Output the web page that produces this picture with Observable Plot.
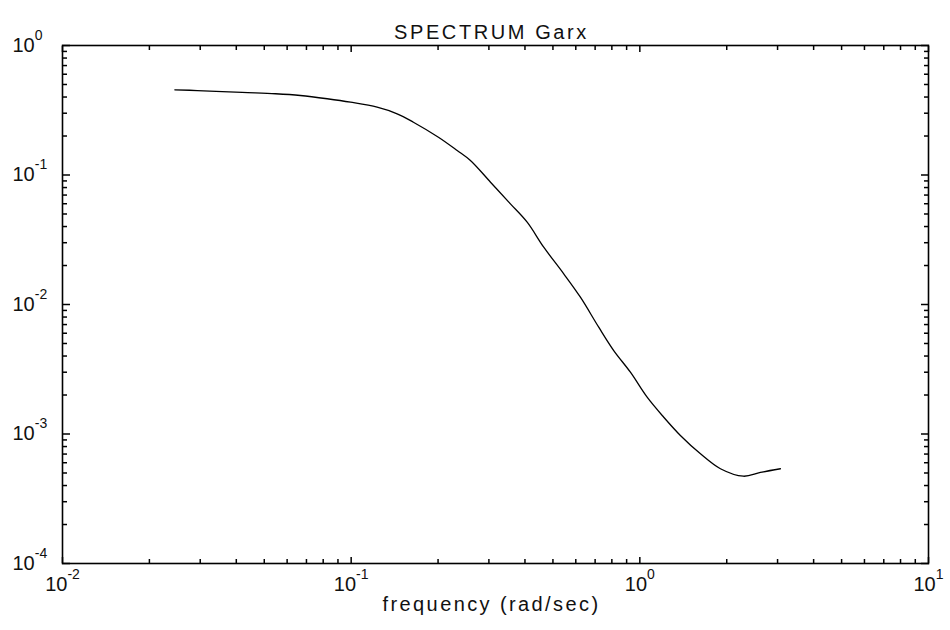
<!DOCTYPE html>
<html>
<head>
<meta charset="utf-8">
<script src="https://cdn.jsdelivr.net/npm/d3@7"></script>
<script src="https://cdn.jsdelivr.net/npm/@observablehq/plot@0.6"></script>
<style>
  html, body { margin: 0; padding: 0; background: #fff; }
  #chart svg { display: block; }
</style>
</head>
<body>
<div id="chart"></div>
<script>
// ---- data ----
const titleText = "SPECTRUM Garx";
const xLabelText = "frequency (rad/sec)";
const freq = [0.0245, 0.0293, 0.0419, 0.0547, 0.0667, 0.0826, 0.0995, 0.123, 0.1443, 0.1643,
              0.2006, 0.2329, 0.2589, 0.3039, 0.3562, 0.4071, 0.4646, 0.545, 0.6225, 0.7205,
              0.812, 0.9277, 1.060, 1.210, 1.382, 1.622, 1.902, 2.285, 2.616, 3.069];
const spectrum = [0.455, 0.449, 0.434, 0.424, 0.411, 0.388, 0.365, 0.334, 0.297, 0.2557,
                  0.1958, 0.1546, 0.1294, 0.0880, 0.0599, 0.0432, 0.0277, 0.01726, 0.01139, 0.00668,
                  0.00441, 0.0030, 0.001924, 0.001348, 0.000974, 0.000703, 0.000539, 0.000472, 0.000505, 0.000539];
const xDecades = [-2, -1, 0, 1];
const yDecades = [-4, -3, -2, -1, 0];
const minorMultipliers = [2, 3, 4, 5, 6, 7, 8, 9];

// ---- derived tables ----
const rows = freq.map((f, i) => ({f, s: spectrum[i]}));
const xMajor = xDecades.map(e => Math.pow(10, e));
const yMajor = yDecades.map(e => Math.pow(10, e));
const minorOf = decs => decs.slice(0, -1).flatMap(e => minorMultipliers.map(k => k * Math.pow(10, e)));
const xMinor = minorOf(xDecades);
const yMinor = minorOf(yDecades);

// ---- layout ----
const W = 950, H = 630;
const font = "Liberation Sans, Arial, Helvetica, sans-serif";
const tickStyle = {stroke: "black", strokeWidth: 1.5, tickFormat: () => "", label: null};

const chart = Plot.plot({
  width: W, height: H,
  marginLeft: 62, marginRight: 22, marginTop: 45, marginBottom: 67,
  style: {fontFamily: font, background: "white", color: "black"},
  x: {type: "log", domain: [xMajor[0], xMajor[xMajor.length - 1]]},
  y: {type: "log", domain: [yMajor[0], yMajor[yMajor.length - 1]]},
  marks: [
    // inward ticks on all four sides
    Plot.axisX({anchor: "bottom", ticks: xMinor, tickSize: -4, ...tickStyle}),
    Plot.axisX({anchor: "top", ticks: xMinor, tickSize: -4, ...tickStyle}),
    Plot.axisX({anchor: "bottom", ticks: xMajor, tickSize: -6, ...tickStyle}),
    Plot.axisX({anchor: "top", ticks: xMajor, tickSize: -6, ...tickStyle}),
    Plot.axisY({anchor: "left", ticks: yMinor, tickSize: -5, ...tickStyle}),
    Plot.axisY({anchor: "right", ticks: yMinor, tickSize: -5, ...tickStyle}),
    Plot.axisY({anchor: "left", ticks: yMajor, tickSize: -8, ...tickStyle}),
    Plot.axisY({anchor: "right", ticks: yMajor, tickSize: -8, ...tickStyle}),
    Plot.frame({stroke: "black", strokeWidth: 1.6}),
    // the curve
    Plot.line(rows, {x: "f", y: "s", stroke: "black", strokeWidth: 1.3, curve: "catmull-rom"}),
    // tick labels
    Plot.text(xMajor, {x: d => d, frameAnchor: "bottom", dy: 27, text: d => "10^" + Math.round(Math.log10(d)),
      fontSize: 20, fill: "#111", fontFamily: font}),
    Plot.text(yMajor, {y: d => d, frameAnchor: "left", textAnchor: "start", dx: -50,
      text: d => "10^" + Math.round(Math.log10(d)), fontSize: 20, fill: "#111", fontFamily: font}),
    // title and axis label
    Plot.text([titleText], {frameAnchor: "top", dy: -21, dx: -4, text: d => d, fontSize: 20, fill: "#111", fontFamily: font}),
    Plot.text([xLabelText], {frameAnchor: "bottom", dy: 47, dx: -4, text: d => d, fontSize: 20, fill: "#111", fontFamily: font})
  ]
});

// superscript exponents and letter spacing
d3.select(chart).selectAll("text").each(function () {
  const t = this.textContent;
  const m = /^10\^(-?\d+)$/.exec(t);
  if (m) {
    const s = d3.select(this);
    s.text("10");
    s.append("tspan").attr("dy", -12).attr("font-size", 14).text(m[1]);
  } else if (t === titleText) {
    d3.select(this).attr("letter-spacing", 2.6);
  } else if (t === xLabelText) {
    d3.select(this).attr("letter-spacing", 2.4);
  }
});

document.getElementById("chart").appendChild(chart);
</script>
</body>
</html>
